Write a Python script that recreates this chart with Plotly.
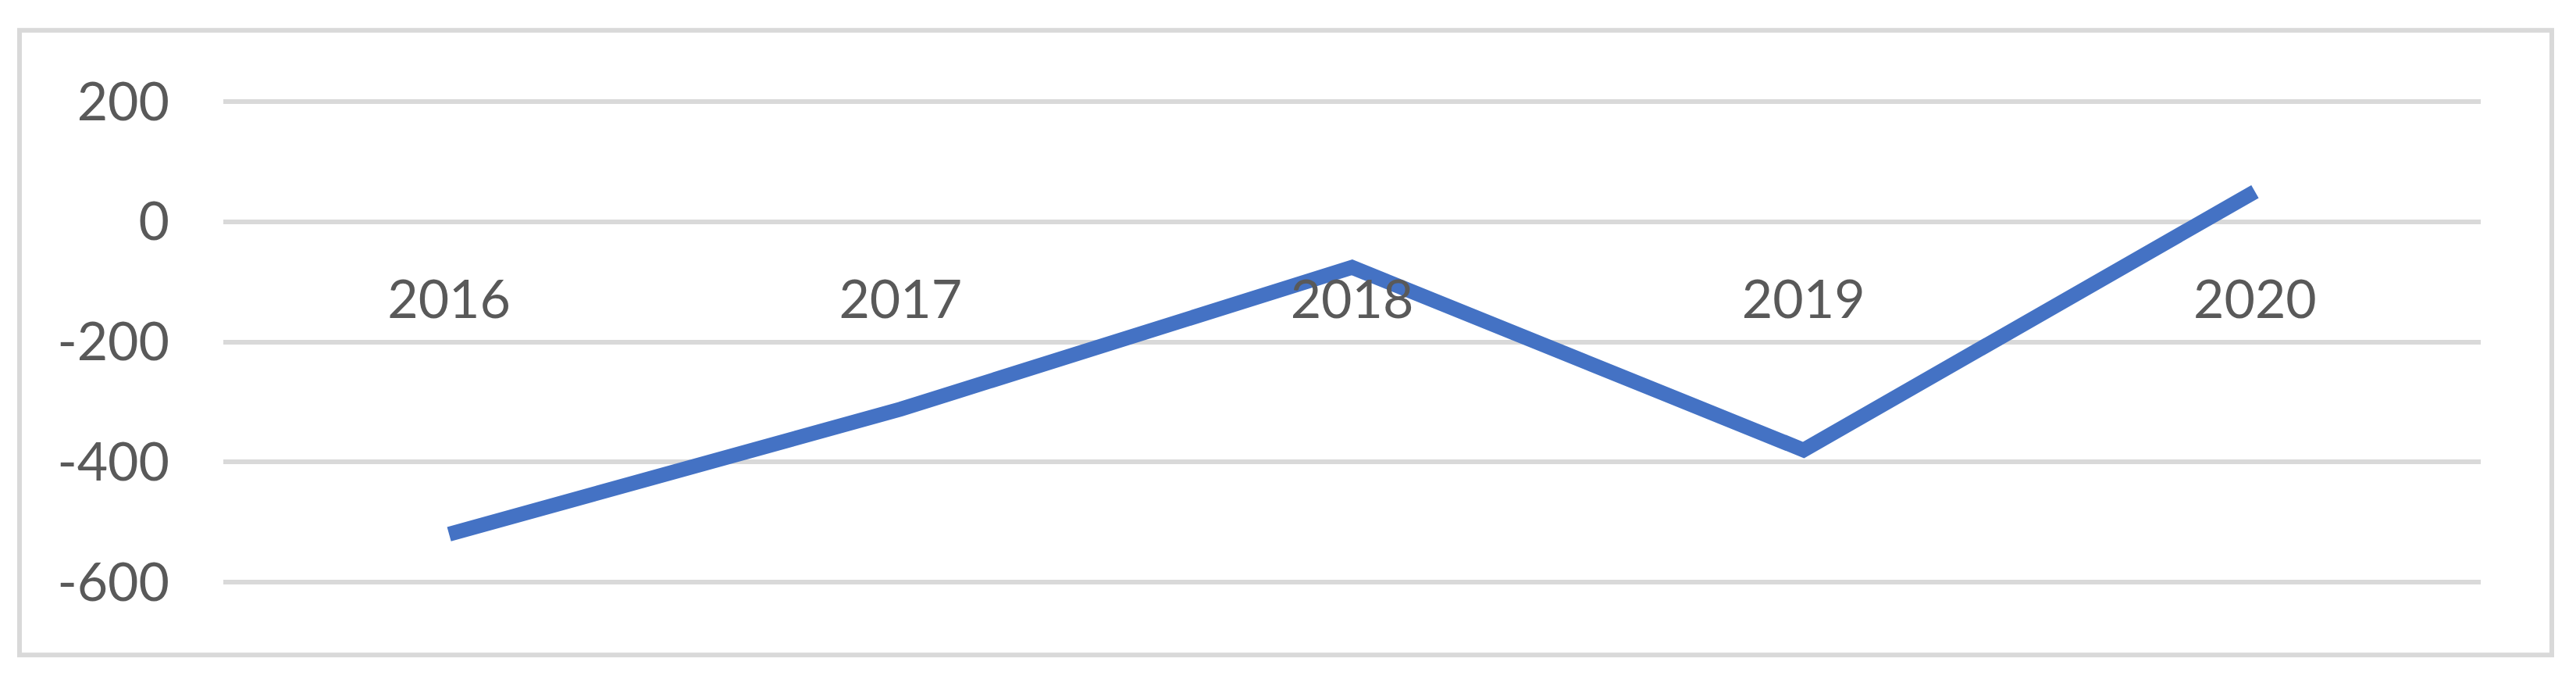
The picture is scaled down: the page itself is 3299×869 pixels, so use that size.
import plotly.graph_objects as go

years = ["2016", "2017", "2018", "2019", "2020"]
values = [-520, -312, -76, -380, 50]
y_ticks = [-600, -400, -200, 0, 200]

W, H = 3299, 869
ymin, ymax = -600, 200
# pixel frame of the value range
top_px, bot_px = 130, 745
left_px, right_px = 286, 3177
k = (bot_px - top_px) / (ymax - ymin)
pad = 5
L, R = left_px, W - right_px
T = top_px - pad * k
B = H - bot_px - pad * k
pw, ph = W - L - R, H - T - B

fig = go.Figure()
fig.add_trace(go.Scatter(
    x=years, y=values, mode="lines",
    line=dict(color="#4472C4", width=19),
    hoverinfo="skip", showlegend=False,
))

font = dict(family="Lato, Carlito, Calibri, sans-serif", size=68, color="#595959")

def px_x(p):
    return (p - L) / pw

def px_y(p):
    return (H - B - p) / ph

fig.update_layout(
    width=W, height=H,
    margin=dict(l=L, r=R, t=T, b=B, pad=0),
    paper_bgcolor="white", plot_bgcolor="white",
    xaxis=dict(
        type="category", categoryorder="array", categoryarray=years,
        range=[-0.5, len(years) - 0.5],
        showgrid=False, zeroline=False, showline=False,
        ticks="", tickfont=font,
        anchor="free", position=(0 - (ymin - pad)) / ((ymax + pad) - (ymin - pad)),
        ticklabelstandoff=54,
    ),
    yaxis=dict(
        range=[ymin - pad, ymax + pad], tickvals=y_ticks,
        ticktext=[str(v) for v in y_ticks],
        showgrid=True, gridcolor="#D9D9D9", gridwidth=6,
        zeroline=False, showline=False, ticks="",
        tickfont=font, ticklabelstandoff=68,
    ),
    shapes=[dict(
        type="rect", xref="paper", yref="paper",
        x0=px_x(25), x1=px_x(3268), y0=px_y(838), y1=px_y(39),
        line=dict(color="#D9D9D9", width=6), fillcolor="rgba(0,0,0,0)",
        layer="below",
    )],
)

fig.write_html("out.html", config={"displayModeBar": False},
               post_script="document.body.style.margin='0px';")
